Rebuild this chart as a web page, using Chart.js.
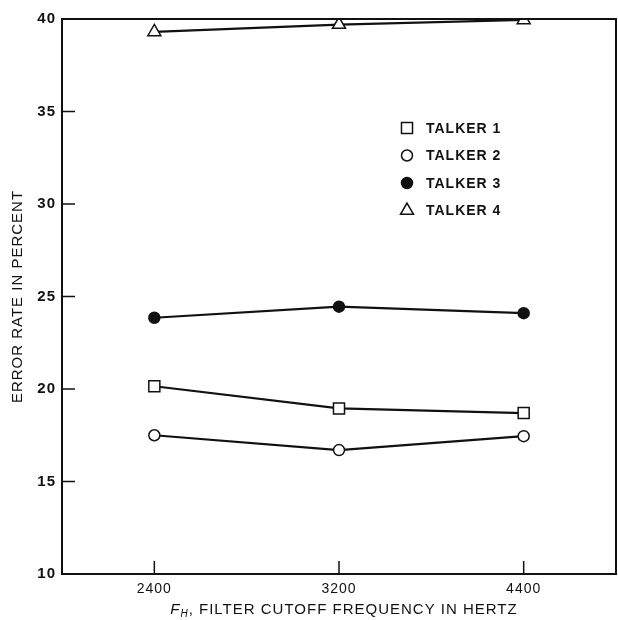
<!DOCTYPE html>
<html>
<head>
<meta charset="utf-8">
<script src="https://cdn.jsdelivr.net/npm/chart.js@4"></script>
<style>
  html, body { margin: 0; padding: 0; background: #fff; overflow: hidden; }
</style>
</head>
<body>
<canvas id="grafico" width="618" height="620"></canvas>
<script>
const frequencias = ["2400", "3200", "4400"];
const talker1 = [20.15, 18.95, 18.7];
const talker2 = [17.5, 16.7, 17.45];
const talker3 = [23.85, 24.45, 24.1];
const talker4 = [39.3, 39.7, 39.95];
const ticksY = [10, 15, 20, 25, 30, 35, 40];

const tinta = "#111";

// ticks drawn inward, frame box, legend inside, x title with subscript
const extras = {
    id: "extras",
    beforeDraw(chart) {
        chart.ctx.letterSpacing = "1px";
    },
    afterDatasetsDraw(chart) {
        const ctx = chart.ctx;
        const area = chart.chartArea;
        const x = chart.scales.x;
        const y = chart.scales.y;
        ctx.save();
        ctx.strokeStyle = tinta;
        ctx.lineWidth = 2;
        ctx.strokeRect(area.left, area.top, area.right - area.left, area.bottom - area.top);

        ctx.lineWidth = 1.5;
        ctx.beginPath();
        y.ticks.forEach((t, i) => {
            const py = y.getPixelForTick(i);
            ctx.moveTo(area.left, py);
            ctx.lineTo(area.left + 13, py);
        });
        x.ticks.forEach((t, i) => {
            const px = x.getPixelForTick(i);
            ctx.moveTo(px, area.bottom);
            ctx.lineTo(px, area.bottom - 13);
        });
        ctx.stroke();

        // legenda
        const lx = 407;
        let ly = 128;
        chart.data.datasets.forEach(ds => {
            ctx.fillStyle = ds.pointBackgroundColor;
            ctx.strokeStyle = tinta;
            ctx.lineWidth = 1.5;
            Chart.helpers.drawPoint(ctx, {
                pointStyle: ds.pointStyle,
                radius: ds.pointRadius,
                borderWidth: 1.5
            }, lx, ly);
            ctx.fillStyle = tinta;
            ctx.font = "bold 14px 'Liberation Sans', Arial, sans-serif";
            ctx.textBaseline = "middle";
            ctx.textAlign = "left";
            ctx.fillText(ds.label, lx + 19, ly + 1);
            ly += 27.5;
        });

        // titulo do eixo x
        const partes = [
            { t: "F", f: "italic 15px 'Liberation Sans', Arial, sans-serif", dy: 0 },
            { t: "H", f: "italic 10px 'Liberation Sans', Arial, sans-serif", dy: 4 },
            { t: ", FILTER CUTOFF FREQUENCY IN HERTZ", f: "15px 'Liberation Sans', Arial, sans-serif", dy: 0 }
        ];
        let total = 0;
        partes.forEach(p => { ctx.font = p.f; p.w = ctx.measureText(p.t).width; total += p.w; });
        let cx = 344 - total / 2;
        ctx.fillStyle = tinta;
        ctx.textBaseline = "middle";
        ctx.textAlign = "left";
        partes.forEach(p => {
            ctx.font = p.f;
            ctx.fillText(p.t, cx, 610 + p.dy);
            cx += p.w;
        });
        ctx.restore();
    }
};

function serie(label, valores, estilo, fundo, raio) {
    return {
        label: label,
        data: valores,
        borderColor: tinta,
        borderWidth: 2.2,
        pointStyle: estilo,
        pointRadius: raio,
        pointBorderWidth: 1.5,
        pointBorderColor: tinta,
        pointBackgroundColor: fundo,
        fill: false,
        tension: 0
    };
}

const ctx = document.getElementById("grafico").getContext("2d");
new Chart(ctx, {
    type: "line",
    data: {
        labels: frequencias,
        datasets: [
            serie("TALKER 1", talker1, "rect", "#fff", 7.8),
            serie("TALKER 2", talker2, "circle", "#fff", 5.5),
            serie("TALKER 3", talker3, "circle", tinta, 5.5),
            serie("TALKER 4", talker4, "triangle", "#fff", 7.5)
        ]
    },
    options: {
        responsive: false,
        animation: false,
        events: [],
        layout: { autoPadding: false, padding: { top: 19, right: 2, left: 0, bottom: 0 } },
        plugins: {
            legend: { display: false },
            tooltip: { enabled: false }
        },
        scales: {
            x: {
                type: "category",
                offset: true,
                grid: { display: false, drawTicks: false },
                border: { display: true, color: tinta, width: 2 },
                ticks: {
                    color: tinta,
                    padding: 7,
                    font: { family: "'Liberation Sans', Arial, sans-serif", size: 14 }
                },
                afterFit: s => { s.height = 46; }
            },
            y: {
                min: 10,
                max: 40,
                grid: { display: false, drawTicks: false },
                border: { display: true, color: tinta, width: 2 },
                afterBuildTicks: s => { s.ticks = ticksY.map(v => ({ value: v })); },
                ticks: {
                    color: tinta,
                    padding: 6,
                    font: { family: "'Liberation Sans', Arial, sans-serif", size: 15, weight: "bold" }
                },
                title: {
                    display: true,
                    text: "ERROR RATE IN PERCENT",
                    color: tinta,
                    padding: { top: 9, bottom: 0 },
                    font: { family: "'Liberation Sans', Arial, sans-serif", size: 15 }
                },
                afterFit: s => { s.width = 62; }
            }
        }
    },
    plugins: [extras]
});
</script>
</body>
</html>
